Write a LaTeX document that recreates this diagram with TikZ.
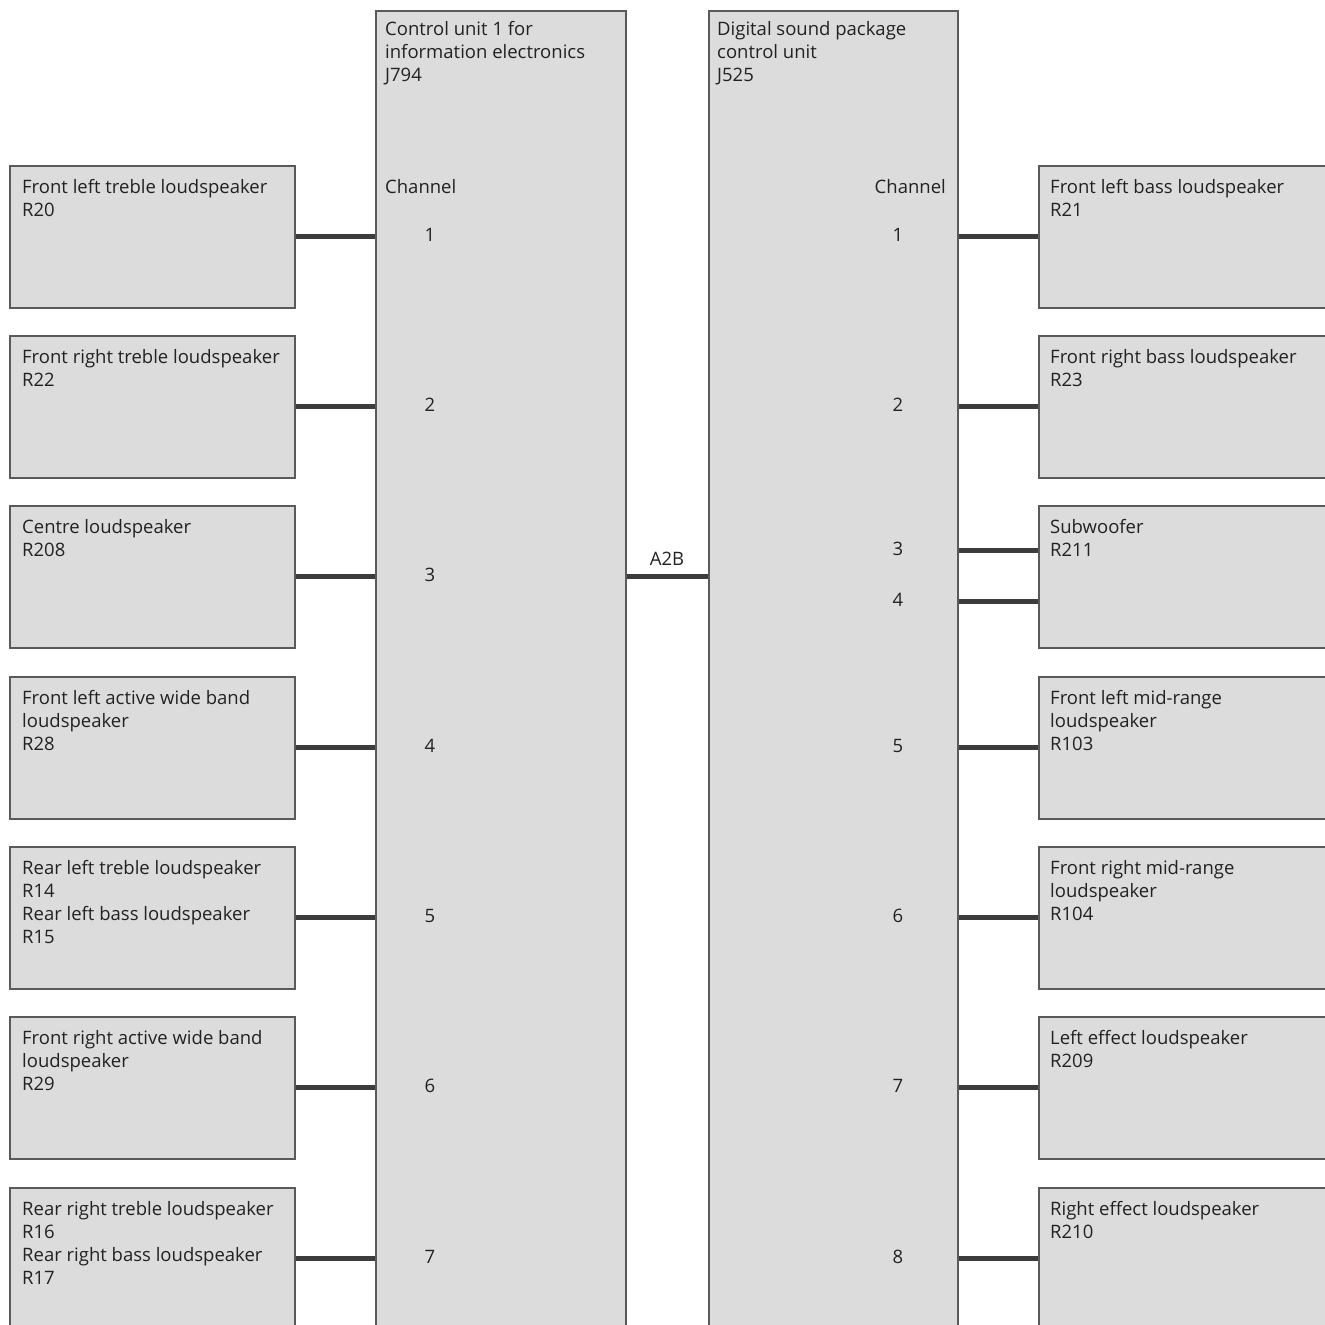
\documentclass[tikz,border=0pt]{standalone}
\usepackage{fontspec}
\setmainfont{Open Sans}
\usetikzlibrary{calc}
\definecolor{boxfill}{HTML}{DCDCDC}
\definecolor{boxline}{HTML}{5A5A5A}
\definecolor{wire}{HTML}{3C3C3C}
\definecolor{txt}{HTML}{222222}
\tikzset{
  spk/.style={draw=boxline,line width=1.6pt,fill=boxfill,minimum width=285pt,minimum height=142pt,anchor=north west,inner sep=0},
  unitbox/.style={draw=boxline,line width=1.6pt,fill=boxfill,minimum width=250pt,minimum height=1340pt,anchor=north west,inner sep=0},
  lbl/.style={anchor=north west,inner sep=0,align=left,text=txt,font=\fontsize{18.5}{23}\selectfont},
  num/.style={inner sep=0,text=txt,font=\fontsize{18.5}{23}\selectfont},
  wireline/.style={draw=wire,line width=5pt}
}
\begin{document}
\begin{tikzpicture}[x=1pt,y=-1pt]
\clip (0,0) rectangle (1325,1325);
\fill[white] (0,0) rectangle (1325,1325);
% control units
\node[unitbox] (cu1) at (375,10) {};
\node[unitbox,minimum width=249pt] (cu2) at (708,10) {};
\node[lbl] (cu1t) at ($(cu1.north west)+(10,11)$) {Control unit 1 for\\information electronics\\J794};
\node[lbl] (cu2t) at ($(cu2.north west)+(9,11)$) {Digital sound package\\control unit\\J525};
\node[lbl] (ch1) at (385,179) {Channel};
\node[lbl,anchor=north east] (ch2) at (946,179) {Channel};
% left speakers
\foreach \i/\y/\t in {1/165/{Front left treble loudspeaker\\R20},
                      2/335/{Front right treble loudspeaker\\R22},
                      3/505/{Centre loudspeaker\\R208},
                      4/676/{Front left active wide band\\loudspeaker\\R28},
                      5/846/{Rear left treble loudspeaker\\R14\\Rear left bass loudspeaker\\R15},
                      6/1016/{Front right active wide band\\loudspeaker\\R29},
                      7/1187/{Rear right treble loudspeaker\\R16\\Rear right bass loudspeaker\\R17}}{
  \node[spk] (l\i) at (9,\y) {};
  \node[lbl] (l\i t) at ($(l\i.north west)+(13,14)$) {\t};
  \draw[wireline] (l\i.east) -- (l\i.east -| cu1.west);
  \node[num] (ln\i) at ($(l\i.east -| 430,0)+(0,-2)$) {\i};
}
% right speakers
\foreach \i/\y/\t in {1/165/{Front left bass loudspeaker\\R21},
                      2/335/{Front right bass loudspeaker\\R23},
                      3/505/{Subwoofer\\R211},
                      4/676/{Front left mid-range\\loudspeaker\\R103},
                      5/846/{Front right mid-range\\loudspeaker\\R104},
                      6/1016/{Left effect loudspeaker\\R209},
                      7/1187/{Right effect loudspeaker\\R210}}{
  \node[spk,minimum width=300pt] (r\i) at (1038,\y) {};
  \node[lbl] (r\i t) at ($(r\i.north west)+(12,14)$) {\t};
}
\draw[wireline] (r1.west) -- (r1.west -| cu2.east);
\draw[wireline] (r2.west) -- (r2.west -| cu2.east);
\coordinate (r3a) at ($(r3.west)+(0,-26)$);
\coordinate (r3b) at ($(r3.west)+(0,25)$);
\draw[wireline] (r3a) -- (r3a -| cu2.east);
\draw[wireline] (r3b) -- (r3b -| cu2.east);
\draw[wireline] (r4.west) -- (r4.west -| cu2.east);
\draw[wireline] (r5.west) -- (r5.west -| cu2.east);
\draw[wireline] (r6.west) -- (r6.west -| cu2.east);
\draw[wireline] (r7.west) -- (r7.west -| cu2.east);
\node[num] (rn1) at ($(r1.west -| 898,0)+(0,-2)$) {1};
\node[num] (rn2) at ($(r2.west -| 898,0)+(0,-2)$) {2};
\node[num] (rn3) at ($(r3a -| 898,0)+(0,-2)$) {3};
\node[num] (rn4) at ($(r3b -| 898,0)+(0,-2)$) {4};
\node[num] (rn5) at ($(r4.west -| 898,0)+(0,-2)$) {5};
\node[num] (rn6) at ($(r5.west -| 898,0)+(0,-2)$) {6};
\node[num] (rn7) at ($(r6.west -| 898,0)+(0,-2)$) {7};
\node[num] (rn8) at ($(r7.west -| 898,0)+(0,-2)$) {8};
% A2B
\draw[wireline] (l3.east -| cu1.east) -- (l3.east -| cu2.west);
\node[num] (a2b) at ($(l3.east -| 667,0)+(0,-18)$) {A2B};
\end{tikzpicture}
\end{document}
